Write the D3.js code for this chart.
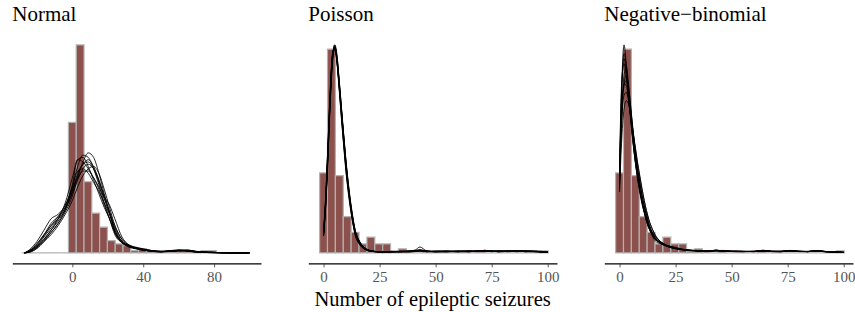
<!DOCTYPE html>
<html>
<head>
<meta charset="utf-8">
<script src="https://cdn.jsdelivr.net/npm/d3@7"></script>
<style>
  body { margin: 0; background: #fff; }
  svg { display: block; }
</style>
</head>
<body>
<svg id="chart" width="855" height="312"></svg>
<script>
// observed histograms (density x 1000), regular bins
const normBinFirst = -26.4;
const normBinW = 4.4;
const normObs = [0, 0, 0, 0, 0, 0, 57.4, 91.5, 31.3, 17.5, 11.3, 5.4, 4.0, 3.2,
  1, 1.9, 1, 1, 0, 1, 1, 1, 0, 1, 1, 0, 0, 0, 0];

const countBinFirst = 0;
const countBinW = 3.517;
const countObs = [47.3, 120.5, 45.7, 21.4, 12.2, 5.3, 9.3, 5.3, 5.3,
  1.2, 2.4, 1.2, 0, 1.2, 0, 1.2, 0, 0, 1.2, 0, 1.2, 0, 0, 0, 0, 0, 0, 0, 1.2];

// replicated-data density curves (density x 1000)
const normGrid = [-27, -24, -20, -16, -12, -8, -4, 0, 3, 6, 9, 12, 15, 18, 21, 24, 28, 32, 36, 40, 45, 50, 55, 60, 65, 70, 80, 90, 100];
const normCurves = [
  [0, 1, 3, 6, 10, 14, 19, 27, 34, 39, 40, 37, 31, 24, 17, 10, 5, 3, 2, 1.5, 1, 0.6, 0.8, 1.1, 0.9, 0.4, 0.2, 0, 0],
  [0, 0.3, 2, 5, 9, 13, 18, 25, 33, 40, 44, 42, 35, 26, 18, 9, 4.5, 2.5, 1.8, 1.2, 0.7, 0.5, 0.9, 1.2, 0.8, 0.3, 0.1, 0, 0],
  [0, 1.5, 5, 10, 15, 17, 21, 29, 36, 37, 35, 31, 27, 22, 17, 11, 5, 3, 2, 1.5, 0.8, 0.6, 1, 1.3, 1, 0.5, 0.1, 0, 0],
  [0, 0.5, 2.5, 6, 10, 15, 22, 33, 41, 42, 38, 32, 26, 20, 15, 9, 4.5, 3, 2, 1.3, 0.8, 0.6, 0.7, 0.9, 1, 0.6, 0.2, 0, 0],
  [0, 0.8, 3, 7, 11, 15, 20, 26, 32, 37, 39, 37, 32, 25, 21, 15, 7, 3.5, 2.2, 1.4, 0.9, 0.5, 0.6, 0.8, 1.1, 0.7, 0.2, 0, 0],
  [0, 1, 4, 8, 12, 16, 21, 28, 33, 36, 36, 33, 29, 24, 18, 12, 6, 3.5, 2.5, 1.8, 1, 0.7, 0.9, 1.1, 1.2, 0.6, 0.2, 0, 0],
  [0, 0.6, 2.5, 5.5, 9, 13, 19, 29, 38, 43, 42, 37, 30, 22, 15, 8, 4.5, 2.8, 1.8, 1.2, 0.7, 0.4, 0.6, 1, 0.8, 0.4, 0.1, 0, 0],
  [0, 1.2, 4, 8, 13, 16, 20, 30, 41, 40, 37, 33, 28, 21, 15, 9, 5, 3.2, 2.2, 1.6, 1, 0.6, 0.7, 1.2, 1.3, 0.6, 0.2, 0, 0],
  [0, 0.4, 2, 5, 8, 12, 17, 23, 29, 34, 37, 38, 35, 28, 20, 12, 6, 3.2, 2, 1.3, 0.8, 0.5, 0.8, 1.1, 0.9, 0.4, 0.1, 0, 0],
  [0, 0.9, 3.5, 7.5, 12, 15, 19, 27, 35, 39, 41, 38, 32, 25, 18, 10, 5, 3, 2.2, 1.5, 0.9, 0.6, 0.9, 1, 0.8, 0.5, 0.2, 0, 0],
];

const poisGrid = [0, 1, 2, 3, 4, 5, 6, 7, 8, 9, 10, 11, 12, 13, 14, 16, 18, 20, 23, 26, 30, 34, 38, 41, 43, 46, 50, 55, 60, 65, 68, 72, 75, 78, 82, 86, 90, 95, 100];
const poisCurves = [
  [11, 30, 60, 92, 115, 122, 115, 100, 84, 68, 53, 40, 29, 20, 13, 6, 3, 1.5, 0.8, 0.5, 0.6, 0.8, 1, 1.8, 3.5, 1.2, 0.7, 0.9, 0.6, 1, 0.8, 1.5, 0.7, 1.2, 1, 0.8, 1.3, 0.7, 0.4],
  [12, 33, 64, 95, 117, 123, 114, 98, 81, 65, 50, 38, 28, 19, 12, 5.5, 2.6, 1.3, 0.7, 0.6, 0.9, 0.6, 0.8, 1.2, 1.6, 0.9, 0.6, 1.1, 0.8, 0.7, 1.4, 1.1, 0.9, 0.8, 1.3, 0.7, 1, 0.9, 0.3],
  [10, 28, 57, 89, 113, 121, 116, 102, 86, 70, 55, 42, 31, 22, 14, 7, 3.5, 1.8, 0.9, 0.6, 0.5, 0.7, 1.1, 1.3, 1.1, 0.8, 0.9, 0.6, 1, 0.8, 0.9, 1.6, 0.8, 1, 0.9, 1.4, 0.8, 0.6, 0.5],
  [13, 35, 66, 97, 118, 121, 112, 96, 79, 63, 48, 36, 26, 18, 11, 5, 2.4, 1.2, 0.8, 0.7, 0.6, 1, 0.7, 1, 1.4, 0.7, 1, 0.8, 1.2, 0.6, 1, 0.9, 1.2, 0.6, 0.9, 1.1, 0.7, 1.1, 0.4],
  [11, 31, 61, 93, 116, 122, 114, 99, 83, 67, 52, 39, 29, 20, 13, 6.5, 3.2, 1.6, 0.8, 0.5, 0.7, 0.9, 0.7, 1.1, 1.2, 1, 0.6, 0.9, 0.7, 1.3, 0.8, 1, 0.9, 1.3, 0.7, 0.9, 1.2, 0.8, 0.3],
  [12, 32, 62, 94, 116, 120, 113, 99, 84, 69, 54, 41, 30, 21, 14, 7, 3.4, 1.7, 0.9, 0.6, 0.8, 0.6, 0.9, 1.5, 2, 1.1, 0.8, 0.7, 1.1, 0.9, 0.7, 1.2, 1, 0.8, 1.2, 0.9, 0.8, 1, 0.5],
  [10, 29, 58, 90, 114, 123, 117, 101, 85, 68, 52, 39, 28, 19, 12, 5.8, 2.8, 1.4, 0.7, 0.5, 0.6, 0.8, 1.2, 0.9, 1, 0.8, 1.2, 0.8, 0.7, 1.1, 0.9, 0.8, 1.3, 0.9, 0.8, 1.2, 0.9, 0.7, 0.4],
  [11, 31, 61, 94, 117, 121, 113, 98, 82, 66, 51, 39, 29, 20, 13, 6.2, 3, 1.5, 0.8, 0.6, 0.7, 0.7, 0.8, 1.2, 1.3, 0.9, 0.7, 1, 0.9, 0.8, 1.1, 1.3, 0.8, 1, 1.1, 0.8, 1.1, 0.9, 0.3],
  [12, 34, 65, 96, 117, 122, 113, 97, 80, 64, 49, 37, 27, 18, 12, 5.4, 2.5, 1.3, 0.7, 0.6, 0.9, 0.7, 0.6, 1, 1.5, 1.2, 0.8, 0.7, 1, 1.2, 0.8, 1, 1.1, 0.7, 1, 1.3, 0.7, 0.8, 0.4],
  [11, 30, 59, 91, 114, 121, 115, 101, 85, 69, 54, 41, 30, 21, 14, 6.8, 3.3, 1.6, 0.8, 0.5, 0.6, 0.9, 1, 1.1, 1.2, 0.7, 0.9, 1.2, 0.8, 0.9, 1.2, 0.9, 1, 1.1, 0.9, 1, 1.2, 0.9, 0.4],
];

const nbGrid = [0, 1, 2, 3, 4, 5, 6, 7, 8, 9, 10, 11, 12, 13, 14, 15, 16, 18, 20, 22, 25, 28, 31, 35, 40, 43, 46, 50, 55, 60, 64, 68, 72, 76, 80, 84, 88, 92, 96, 100];
const nbCurves = [
  [43, 100, 123, 112, 96, 80, 66, 54, 44, 36, 29, 24, 19, 15, 12, 10, 8.5, 6, 4.5, 3.5, 2.5, 1.8, 1.4, 1.2, 1, 1.8, 1, 0.8, 0.9, 0.7, 1.6, 0.8, 0.9, 1.5, 0.8, 0.7, 1.2, 0.8, 0.5, 0.3],
  [40, 78, 100, 105, 98, 86, 73, 61, 51, 42, 34, 27, 22, 17, 14, 11, 9, 6.5, 4.8, 3.6, 2.6, 2, 1.5, 1.2, 1, 1.2, 1.4, 0.9, 0.7, 0.9, 1.3, 0.8, 0.7, 1.1, 0.9, 0.8, 1, 0.6, 0.5, 0.3],
  [45, 80, 93, 95, 90, 81, 71, 62, 53, 45, 38, 31, 25, 20, 16, 13, 10.5, 7, 5, 3.8, 2.7, 2, 1.6, 1.3, 1.2, 1.5, 1.1, 1, 0.8, 0.9, 1.2, 0.9, 0.8, 1.2, 0.9, 0.7, 1.3, 0.7, 0.6, 0.3],
  [50, 98, 115, 106, 92, 78, 65, 54, 45, 37, 30, 24, 19, 15, 12, 9.5, 8, 6.5, 5, 4, 2.8, 2, 1.5, 1.3, 1.1, 1.6, 1.2, 0.9, 0.8, 1, 1.1, 0.9, 1, 1.4, 0.8, 0.9, 1.4, 0.8, 0.5, 0.3],
  [38, 82, 105, 110, 100, 86, 71, 58, 47, 38, 31, 25, 20, 16, 13, 10, 8, 6, 5, 4.2, 3, 2.1, 1.7, 1.4, 1.1, 1.3, 1.5, 1, 0.9, 0.8, 1, 1, 0.8, 1.2, 1, 0.8, 1.1, 0.9, 0.6, 0.3],
  [47, 88, 100, 99, 91, 80, 69, 58, 49, 41, 34, 28, 23, 18, 14, 11, 8.5, 6, 4.5, 3.8, 3.2, 2.3, 1.6, 1.2, 1, 1.2, 1, 0.9, 1, 0.8, 1.5, 1, 0.7, 1.3, 0.9, 0.8, 1, 0.7, 0.5, 0.3],
  [42, 96, 118, 110, 95, 80, 67, 55, 45, 37, 30, 24, 19, 15, 12, 9, 7, 5.5, 4.5, 3.5, 2.5, 1.9, 1.5, 1.2, 1.1, 1.4, 1.2, 0.9, 0.8, 0.9, 1.2, 0.9, 0.8, 1.2, 0.9, 0.8, 1.1, 0.8, 0.5, 0.3],
  [36, 68, 85, 90, 88, 81, 72, 63, 54, 46, 38, 31, 25, 20, 16, 13, 10, 7, 5.3, 4, 2.9, 2.1, 1.6, 1.3, 1.1, 1.2, 1.1, 0.9, 0.9, 0.8, 1.1, 0.8, 0.9, 1.1, 1, 0.8, 1.2, 0.7, 0.6, 0.3],
  [52, 102, 112, 104, 92, 79, 66, 55, 46, 38, 31, 25, 20, 16, 13, 11, 9.5, 7, 4.8, 3.5, 2.5, 1.8, 1.4, 1.2, 1, 1.3, 1.1, 1, 0.8, 0.8, 1.2, 0.8, 0.9, 1.3, 0.8, 0.9, 1.2, 0.8, 0.5, 0.3],
  [44, 84, 99, 102, 95, 84, 72, 60, 50, 42, 34, 28, 22, 17, 13, 10, 8, 6.2, 5.2, 4, 2.7, 2, 1.5, 1.2, 1, 1.4, 1.2, 0.9, 0.8, 0.9, 1.3, 0.9, 0.8, 1.2, 0.9, 0.8, 1.1, 0.8, 0.5, 0.3],
];

const panelTitles = ['Normal', 'Poisson', 'Negative\u2212binomial'];
const normLimits = [-27.5, 100.1];
const countLimits = [-1.76, 99.1];
const normTicks = [0, 40, 80];
const countTicks = [0, 25, 50, 75, 100];
const xTitle = 'Number of epileptic seizures';

const panels = [
  { title: panelTitles[0], obs: normObs, binFirst: normBinFirst, binW: normBinW, grid: normGrid, curves: normCurves, limits: normLimits, ticks: normTicks },
  { title: panelTitles[1], obs: countObs, binFirst: countBinFirst, binW: countBinW, grid: poisGrid, curves: poisCurves, limits: countLimits, ticks: countTicks },
  { title: panelTitles[2], obs: countObs, binFirst: countBinFirst, binW: countBinW, grid: nbGrid, curves: nbCurves, limits: countLimits, ticks: countTicks },
];

const font = "'Liberation Serif', 'DejaVu Serif', serif";
const panelLeft = [12.3, 308.3, 604.3];
const panelW = 248.7;
const plotTop = 34.5;
const plotBottom = 263.3;

const svg = d3.select('#chart');

panels.forEach((p, pi) => {
  const left = panelLeft[pi];
  const span = p.limits[1] - p.limits[0];
  const x = d3.scaleLinear()
    .domain([p.limits[0] - 0.05 * span, p.limits[1] + 0.05 * span])
    .range([left, left + panelW]);

  const yMax = d3.max([d3.max(p.obs), d3.max(p.curves.flat())]);
  const y = d3.scaleLinear()
    .domain([-0.05 * yMax, 1.05 * yMax])
    .range([plotBottom, plotTop]);

  const g = svg.append('g');

  // histogram of observed data (paths so empty bins still show an outline)
  g.append('g')
    .selectAll('path')
    .data(p.obs)
    .join('path')
    .attr('d', (d, i) => {
      const c = p.binFirst + i * p.binW;
      const x0 = x(c - p.binW / 2), x1 = x(c + p.binW / 2);
      return `M${x0},${y(0)}H${x1}V${y(d)}H${x0}Z`;
    })
    .attr('fill', '#8c514c')
    .attr('stroke', '#b2b2b2')
    .attr('stroke-width', 1.2);

  const line = d3.line()
    .x((d, i) => x(p.grid[i]))
    .y((d) => y(d))
    .curve(d3.curveMonotoneX);

  g.append('g')
    .selectAll('path')
    .data(p.curves)
    .join('path')
    .attr('d', line)
    .attr('fill', 'none')
    .attr('stroke', '#000')
    .attr('stroke-width', 0.85);

  const axis = g.append('g')
    .attr('transform', `translate(0,${plotBottom})`)
    .call(d3.axisBottom(x).tickValues(p.ticks).tickSize(4).tickSizeOuter(0).tickPadding(4));
  axis.select('.domain').attr('stroke', '#000').attr('stroke-width', 1.2);
  axis.selectAll('.tick line').attr('stroke', '#333').attr('stroke-width', 0.8);
  axis.selectAll('.tick text')
    .attr('fill', '#555')
    .style('font-family', font)
    .style('font-size', '15px');

  g.append('text')
    .attr('x', left)
    .attr('y', 20.5)
    .style('font-family', font)
    .style('font-size', '21px')
    .attr('fill', '#000')
    .text(p.title);
});

svg.append('text')
  .attr('x', panelLeft[1] + panelW / 2)
  .attr('y', 306)
  .attr('text-anchor', 'middle')
  .style('font-family', font)
  .style('font-size', '20.5px')
  .attr('fill', '#000')
  .text(xTitle);
</script>
</body>
</html>
